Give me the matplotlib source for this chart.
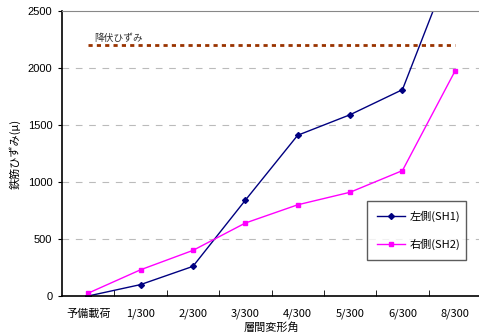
import matplotlib
matplotlib.use("Agg")
import matplotlib.pyplot as plt
import numpy as np

plt.rcParams['font.family'] = ['Liberation Sans', 'Noto Sans CJK JP', 'DejaVu Sans']

categories = ['予備載荷', '1/300', '2/300', '3/300', '4/300', '5/300', '6/300', '8/300']
sh1 = [0, 100, 260, 840, 1410, 1590, 1810, 2990]
sh2 = [25, 230, 400, 640, 800, 910, 1100, 1970]
yield_strain = 2200
yticks = [0, 500, 1000, 1500, 2000, 2500]

jp = ['Noto Sans CJK JP']

fig = plt.figure(figsize=(4.79, 3.36), dpi=100)
ax = fig.add_axes([62/479, 1 - 296/336, 419/479, 285/336])

x = np.arange(len(categories))
ax.plot(x, sh1, color='#000080', lw=1.0, marker='D', ms=3, label='左側(SH1)')
ax.plot(x, sh2, color='#FF00FF', lw=1.0, marker='s', ms=3.5, label='右側(SH2)', clip_on=False)
ax.plot([x[0], x[-1]], [yield_strain, yield_strain], color='#993300', lw=2.0,
        linestyle=(0, (1.5, 1.5)))
ax.text(0.12, yield_strain + 62, '降伏ひずみ', fontsize=7, color='#333333', family=jp,
        va='center')

ax.set_xlim(-0.5, len(categories) - 0.5)
ax.set_ylim(0, 2500)
ax.set_yticks(yticks)
ax.set_yticklabels([str(v) for v in yticks], fontsize=8)
ax.set_xticks(x)
ax.set_xticklabels(categories, fontsize=8, family=jp)
ax.tick_params(axis='x', length=0, pad=9)
ax.set_xticks(np.arange(0.5, len(categories) - 0.5, 1.0), minor=True)
ax.tick_params(axis='x', which='minor', direction='in', length=4, color='black')
ax.tick_params(axis='y', direction='out', length=3, pad=4)

for v in yticks[1:-1]:
    ax.axhline(v, color='#BBBBBB', lw=0.8, dashes=(6, 6), zorder=0)

ax.spines['right'].set_visible(False)
ax.spines['top'].set_color('#888888')
ax.spines['left'].set_linewidth(1.2)
ax.spines['bottom'].set_linewidth(1.2)

ax.set_xlabel('層間変形角', fontsize=8, family=jp, labelpad=2)
ax.set_ylabel('鉄筋ひずみ(μ)', fontsize=8, family=jp, labelpad=5)

leg = ax.legend(loc='center', bbox_to_anchor=(361/479, 1 - 260/336, 111/479, 59/336),
                bbox_transform=fig.transFigure, mode='expand',
                frameon=True, fancybox=False, edgecolor='#333333', borderpad=0.9,
                labelspacing=1.5, handlelength=2.6, handletextpad=0.4,
                prop={'family': jp, 'size': 8})
leg.get_frame().set_linewidth(1.0)

fig.savefig('out.png', dpi=100)
